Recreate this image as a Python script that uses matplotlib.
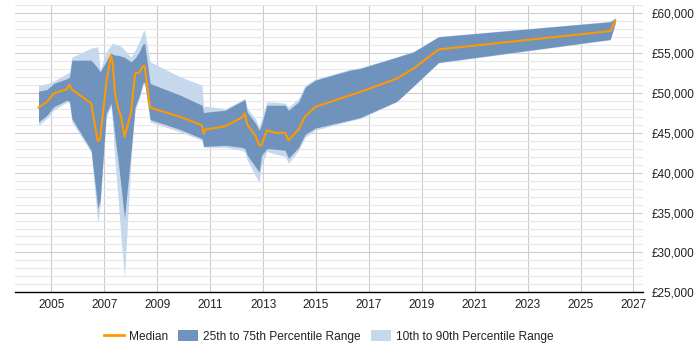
import matplotlib
matplotlib.use("Agg")
import matplotlib.pyplot as plt
from matplotlib.ticker import MultipleLocator, FuncFormatter
from matplotlib.patches import Patch
from matplotlib.lines import Line2D

years = [2004.51, 2004.83, 2005.08, 2005.58, 2005.68, 2005.77, 2006.50, 2006.75, 2006.84,
         2007.07, 2007.25, 2007.31, 2007.40, 2007.51, 2007.63, 2007.76, 2008.01, 2008.16,
         2008.33, 2008.45, 2008.52, 2008.73, 2009.87, 2010.69, 2010.75, 2010.81, 2011.57,
         2012.19, 2012.31, 2012.40, 2012.72, 2012.85, 2012.94, 2013.14, 2013.49, 2013.83,
         2013.96, 2014.34, 2014.59, 2014.97, 2016.29, 2016.67, 2018.06, 2018.69, 2019.63,
         2026.12, 2026.31]

p10 = [45957, 46837, 47843, 48849, 48723, 46372, 42563, 33636, 35899,
       46963, 48346, 45843, 41368, 37031, 31751, 26847, 41808, 47843,
       49352, 50860, 51237, 46372, 45115, 44071, 43229, 43191, 43191,
       42814, 42600, 41556, 39545, 38791, 40928, 42689, 42311, 42060,
       41179, 42814, 44448, 45350, 46500, 46800, 48912, 50850, 53777,
       56668, 58718]

p25 = [46372, 47214, 48258, 49100, 48975, 46799, 42814, 35522, 36528,
       47428, 48723, 47214, 44448, 41682, 38288, 34265, 42814, 48258,
       49729, 51237, 51401, 46673, 45416, 44285, 43317, 43317, 43443,
       43191, 43028, 42186, 40676, 40086, 42186, 43028, 42940, 42814,
       41808, 43191, 44826, 45600, 46623, 46925, 48974, 50910, 53840,
       56731, 58780]

median = [48182, 48886, 49942, 50483, 51036, 50445, 48723, 43945, 44285,
          51225, 54757, 53915, 49942, 48182, 47002, 44486, 47629, 52457,
          52583, 53375, 53375, 48182, 47002, 45957, 44914, 45416, 45831,
          46925, 47428, 46045, 44574, 43443, 43443, 45328, 44989, 45039,
          44071, 45416, 47088, 48258, 49729, 50143, 51828, 53085, 55474,
          57775, 59070]

p75 = [50232, 50445, 51200, 51800, 52000, 54129, 54129, 53123, 52658,
       54003, 55047, 54883, 54757, 54757, 54632, 54506, 53915, 54380,
       55260, 56140, 56228, 51200, 49729, 48471, 47503, 47591, 47843,
       48974, 49188, 47591, 46170, 45328, 46083, 48471, 48471, 48471,
       47843, 48886, 50734, 51614, 52871, 53085, 54506, 55172, 57058,
       58944, 59371]

p90 = [50986, 51175, 51489, 52457, 52600, 54506, 55638, 55801, 52900,
       55134, 56015, 56266, 56140, 56015, 55889, 55386, 54506, 55386,
       56517, 57649, 57900, 53915, 52030, 50986, 48258, 48346, 48057,
       49100, 49352, 48094, 46711, 45705, 46837, 48886, 48849, 48723,
       48258, 49313, 50986, 51740, 53000, 53186, 54570, 55230, 57108,
       58994, 59434]

x_ticks = [2005, 2007, 2009, 2011, 2013, 2015, 2017, 2019, 2021, 2023, 2025, 2027]

plt.rcParams['font.family'] = ['Liberation Sans', 'DejaVu Sans']

fig = plt.figure(figsize=(7, 3.5), dpi=100)
ax = fig.add_axes([0.0214, 0.1649, 0.8972, 0.8197])

light = '#c6d9ec'
dark = '#6f93bd'
orange = '#ff9900'

ax.fill_between(years, p10, p90, color=light, linewidth=0, zorder=2)
ax.fill_between(years, p25, p75, color=dark, linewidth=0, zorder=3)
ax.plot(years, median, color=orange, linewidth=1.5, zorder=4)

ax.set_xlim(2003.62, 2027.36)
ax.set_ylim(25000, 61000)

ax.set_xticks(x_ticks)
ax.set_xticklabels([str(t) for t in x_ticks])
ax.yaxis.set_major_locator(MultipleLocator(5000))
ax.yaxis.set_minor_locator(MultipleLocator(1000))
ax.yaxis.tick_right()
ax.yaxis.set_major_formatter(FuncFormatter(lambda v, p: '£{:,.0f}'.format(v)))

ax.grid(True, which='major', axis='y', color='#cccccc', linewidth=0.8, zorder=0)
ax.grid(True, which='minor', axis='y', color='#e8e8e8', linewidth=0.8, zorder=0)
ax.grid(True, which='major', axis='x', color='#cccccc', linewidth=0.8, zorder=0)
ax.set_axisbelow(True)

for s in ['top', 'right', 'left']:
    ax.spines[s].set_visible(False)
ax.spines['bottom'].set_color('#000000')
ax.spines['bottom'].set_linewidth(1.0)

ax.tick_params(axis='x', length=0, pad=5, labelsize=8.5, labelcolor='#222222')
ax.tick_params(axis='y', which='both', length=0, pad=6, labelsize=8.5, labelcolor='#222222')

handles = [Line2D([0], [0], color=orange, linewidth=2),
           Patch(facecolor=dark, edgecolor='none'),
           Patch(facecolor=light, edgecolor='none')]
labels = ['Median', '25th to 75th Percentile Range', '10th to 90th Percentile Range']
ax.legend(handles, labels, loc='upper center', bbox_to_anchor=(0.5, -0.095),
          ncol=3, frameon=False, fontsize=8.6, handlelength=1.67, handleheight=1.0,
          columnspacing=0.84, handletextpad=0.42, labelcolor='#222222')

fig.savefig('out.png', dpi=100)
